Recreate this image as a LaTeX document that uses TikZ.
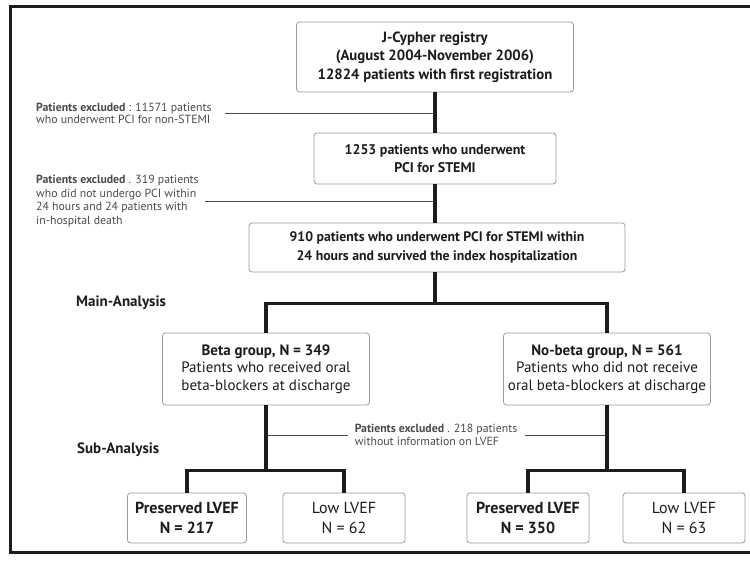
\documentclass[tikz,border=0pt]{standalone}
\usepackage{fontspec}
\setmainfont{PT Sans}
\usepackage{xcolor}
\definecolor{inkdark}{HTML}{1C1C1C}
\definecolor{inkgray}{HTML}{4A4A4A}
\definecolor{boxline}{HTML}{9A9A9A}
\tikzset{
  flowbox/.style={draw=boxline, line width=0.8pt, rounded corners=3pt, fill=white,
    align=center, inner sep=0pt, text=inkdark, font=\fontsize{15}{17.5}\selectfont},
  trunk/.style={draw=inkdark, line width=3.5pt},
  exline/.style={draw=inkgray, line width=0.9pt},
  extext/.style={align=left, inner sep=0pt, text=inkgray, font=\fontsize{11.8}{12.5}\selectfont},
  seclabel/.style={inner sep=0pt, text=inkdark, font=\fontsize{15}{17}\selectfont\bfseries},
}
\begin{document}
\begin{tikzpicture}[x=1pt, y=-1pt]
        \useasboundingbox (0,0) rectangle (750,561);
        %FRAME
        \draw[draw=inkdark, line width=3pt] (750,7) -- (10,7) -- (10,552) -- (750,552);
        %BOXES
        \node[flowbox, font=\fontsize{14.8}{18.5}\selectfont\bfseries, minimum width=277pt, minimum height=70pt] (registry) at (435,57)
            {J-Cypher registry\\(August 2004-November 2006)\\12824 patients with first registration};
        \node[flowbox, font=\fontsize{14}{18}\selectfont\bfseries, minimum width=242pt, minimum height=51pt] (stemi) at (435,158.5)
            {1253 patients who underwent\\PCI for STEMI};
        \node[flowbox, font=\fontsize{13.8}{18.5}\selectfont\bfseries, minimum width=376pt, minimum height=49pt] (cohort) at (437,247.5)
            {910 patients who underwent PCI for STEMI within\\24 hours and survived the index hospitalization};
        \node[flowbox, minimum width=207pt, minimum height=72pt] (beta) at (266,369)
            {\textbf{Beta group, N = 349}\\Patients who received oral\\beta-blockers at discharge};
        \node[flowbox, minimum width=207pt, minimum height=72pt] (nobeta) at (607,369)
            {\textbf{No-beta group, N = 561}\\Patients who did not receive\\oral beta-blockers at discharge};
        \node[flowbox, font=\fontsize{16}{20}\selectfont, minimum width=119pt, minimum height=50pt] (pres1) at (187,518)
            {\textbf{Preserved LVEF}\\\textbf{N = 217}};
        \node[flowbox, font=\fontsize{16}{20}\selectfont, minimum width=122pt, minimum height=50pt] (low1) at (344,518)
            {Low LVEF\\N = 62};
        \node[flowbox, font=\fontsize{16}{20}\selectfont, minimum width=122pt, minimum height=50pt] (pres2) at (528,518)
            {\textbf{Preserved LVEF}\\\textbf{N = 350}};
        \node[flowbox, font=\fontsize{16}{20}\selectfont, minimum width=122pt, minimum height=50pt] (low2) at (684,518)
            {Low LVEF\\N = 63};
        %LABELS
        \node[seclabel, anchor=west] (mainlab) at (76,303) {Main-Analysis};
        \node[seclabel, anchor=west] (sublab) at (77,450) {Sub-Analysis};
        \node[extext, anchor=west] (excl1) at (36,113.5)
            {\textbf{Patients excluded} : 11571 patients\\who underwent PCI for non-STEMI};
        \node[extext, anchor=west, font=\fontsize{11.8}{13.5}\selectfont] (excl2) at (36,201)
            {\textbf{Patients excluded} . 319 patients\\who did not undergo PCI within\\24 hours and 24 patients with\\in-hospital death};
        \node[extext, anchor=center] (excl3) at (436,435)
            {\textbf{Patients excluded} . 218 patients\\without information on LVEF};
        %EXCLUSION LINES
        \draw[exline] ([xshift=13pt]excl1.east) -- (registry.south |- excl1.east);
        \draw[exline] ([xshift=6pt]excl2.east) -- (stemi.south |- excl2.east);
        \draw[exline] (beta.south |- excl3.west) -- ([xshift=-7pt]excl3.west);
        \draw[exline] ([xshift=8pt]excl3.east) -- (nobeta.south |- excl3.east);
        %TRUNK
        \draw[trunk] (registry.south) -- (stemi.north);
        \draw[trunk] (stemi.south) -- (stemi.south |- cohort.north);
        \draw[trunk] (cohort.south -| stemi.south) -- ++(0,31) coordinate (split) -| (beta.north);
        \draw[trunk] (split) -| (nobeta.north);
        \draw[trunk] (beta.south) -- ++(0,65) coordinate (subl) -| (pres1.north);
        \draw[trunk] (subl) -| (low1.north);
        \draw[trunk] (nobeta.south) -- ++(0,65) coordinate (subr) -| (pres2.north);
        \draw[trunk] (subr) -| (low2.north);
    \end{tikzpicture}
\end{document}
